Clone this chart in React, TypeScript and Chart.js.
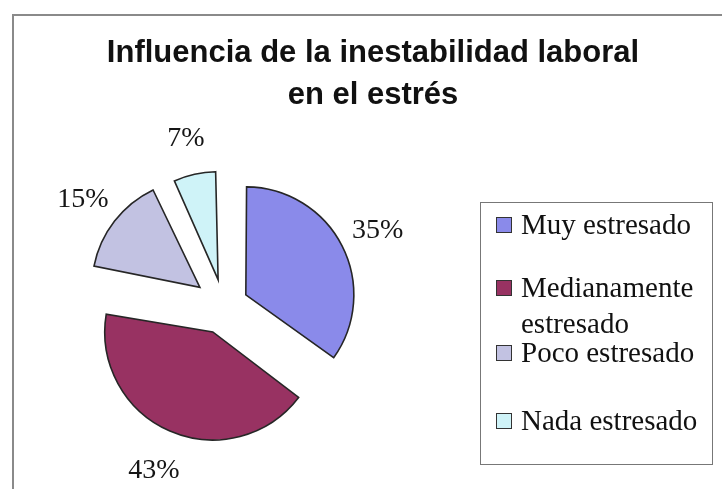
import React, { useEffect, useRef } from "react";
import { Chart, registerables } from "chart.js";

Chart.register(...registerables);

const TITLE_LINES = ["Influencia de la inestabilidad laboral", "en el estrés"];
const CATEGORIES = ["Muy estresado", "Medianamente estresado", "Poco estresado", "Nada estresado"];
const LEGEND_LINES = [["Muy estresado"], ["Medianamente", "estresado"], ["Poco estresado"], ["Nada estresado"]];
const VALUES = [35, 43, 15, 7];
const PCT_LABELS = ["35%", "43%", "15%", "7%"];
const COLORS = ["#8a8aea", "#983262", "#c2c2e2", "#cff3f8"];
const OFFSETS = [98, 113, 122, 108];

// Keep every exploded slice at the same radius (Chart.js grows offset slices a little).
const equalRadius = {
  id: "equalRadius",
  beforeDatasetsDraw(chart: any) {
    const meta = chart.getDatasetMeta(0);
    const R = meta.controller.outerRadius;
    meta.data.forEach((el: any) => {
      const fix = 1 - Math.sin(Math.min(Math.PI, el.circumference || 0));
      const off = (el.options.offset || 0) / 4;
      el.outerRadius = R - off * fix;
    });
  },
};

const pctLabels = {
  id: "pctLabels",
  afterDatasetsDraw(chart: any) {
    const meta = chart.getDatasetMeta(0);
    const R = meta.controller.outerRadius;
    const ctx = chart.ctx;
    ctx.save();
    ctx.font = '28px "Liberation Serif"';
    ctx.fillStyle = "#151515";
    ctx.textAlign = "center";
    ctx.textBaseline = "middle";
    meta.data.forEach((el: any, i: number) => {
      const mid = (el.startAngle + el.endAngle) / 2;
      const d = (el.options.offset || 0) / 4 + R * 1.37;
      ctx.fillText(PCT_LABELS[i], el.x + Math.cos(mid) * d, el.y + Math.sin(mid) * d + 3);
    });
    ctx.restore();
  },
};

const LEGEND_TOPS = [206, 269, 334, 402];

export default function App() {
  const ref = useRef<HTMLCanvasElement | null>(null);

  useEffect(() => {
    document.body.style.margin = "0";
    const canvas = ref.current;
    if (!canvas) return;
    const chart = new Chart(canvas, {
      type: "pie",
      data: {
        labels: CATEGORIES,
        datasets: [
          {
            data: VALUES,
            backgroundColor: COLORS,
            borderColor: "#262626",
            borderWidth: 1.6,
            borderJoinStyle: "miter",
            offset: OFFSETS,
            hoverOffset: 0,
            radius: 108,
          } as any,
        ],
      },
      options: {
        responsive: false,
        animation: false,
        events: [],
        layout: { padding: { left: 0, right: 274, top: 150, bottom: 27 } },
        plugins: {
          legend: { display: false },
          tooltip: { enabled: false },
          title: { display: false },
        },
      } as any,
      plugins: [equalRadius, pctLabels],
    });
    return () => chart.destroy();
  }, []);

  return (
    <div style={{ position: "relative", width: 722, height: 489, overflow: "hidden", background: "#fff" }}>
      <div
        style={{
          position: "absolute",
          left: 12,
          top: 14,
          width: 720,
          height: 480,
          borderTop: "2px solid #8a8a8a",
          borderLeft: "2px solid #8a8a8a",
        }}
      />
      <canvas ref={ref} width={722} height={489} style={{ position: "absolute", left: 0, top: 0, display: "block" }} />
      <div
        style={{
          position: "absolute",
          left: 24,
          top: 31,
          width: 698,
          textAlign: "center",
          fontFamily: '"Liberation Sans", Arial, sans-serif',
          fontWeight: "bold",
          fontSize: 31,
          lineHeight: "42px",
          color: "#111",
        }}
      >
        {TITLE_LINES.map((t, i) => (
          <div key={i}>{t}</div>
        ))}
      </div>
      <div
        style={{
          position: "absolute",
          left: 480,
          top: 202,
          width: 233,
          height: 263,
          border: "1.5px solid #777",
          boxSizing: "border-box",
        }}
      />
      {LEGEND_LINES.map((lines, i) => (
        <React.Fragment key={i}>
          <div
            style={{
              position: "absolute",
              left: 496,
              top: LEGEND_TOPS[i] + 11,
              width: 16,
              height: 16,
              background: COLORS[i],
              border: "1.5px solid #333",
              boxSizing: "border-box",
            }}
          />
          <div
            style={{
              position: "absolute",
              left: 521,
              top: LEGEND_TOPS[i],
              fontFamily: '"Liberation Serif", "Times New Roman", serif',
              fontSize: 29,
              lineHeight: "36px",
              color: "#111",
              whiteSpace: "nowrap",
            }}
          >
            {lines.map((l, j) => (
              <div key={j}>{l}</div>
            ))}
          </div>
        </React.Fragment>
      ))}
    </div>
  );
}
